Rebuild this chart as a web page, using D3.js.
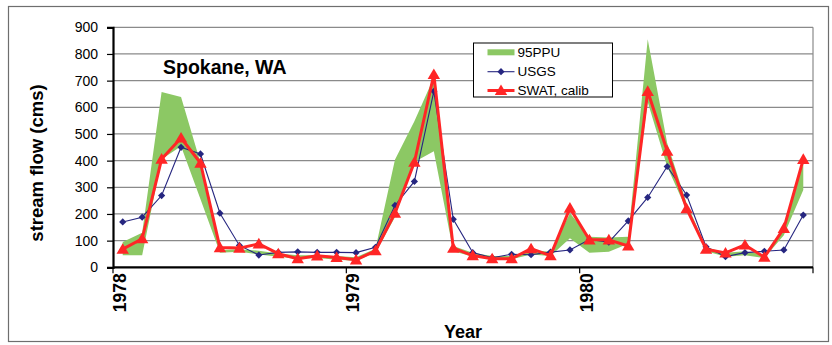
<!DOCTYPE html>
<html>
<head>
<meta charset="utf-8">
<script src="https://cdn.jsdelivr.net/npm/d3@7"></script>
<style>
  html, body { margin: 0; padding: 0; background: #fff; }
  svg { display: block; font-family: "Liberation Sans", Arial, sans-serif; }
</style>
</head>
<body>
<svg id="chart" width="832" height="345"></svg>
<script>
// Monthly categories, Jan 1978 – Dec 1980
const months = [
  "1978-01","1978-02","1978-03","1978-04","1978-05","1978-06","1978-07","1978-08","1978-09","1978-10","1978-11","1978-12",
  "1979-01","1979-02","1979-03","1979-04","1979-05","1979-06","1979-07","1979-08","1979-09","1979-10","1979-11","1979-12",
  "1980-01","1980-02","1980-03","1980-04","1980-05","1980-06","1980-07","1980-08","1980-09","1980-10","1980-11","1980-12"
];
// Year labels shown at the first month of each year
const yearTicks = ["1978-01", "1979-01", "1980-01"];
const yearLabels = ["1978", "1979", "1980"];
const yTicks = [0, 100, 200, 300, 400, 500, 600, 700, 800, 900];

// Observed flow (USGS gauge), cms
const usgs = [170,188,269,450,425,203,82,46,56,58,56,56,
              55,75,232,322,660,180,55,36,49,47,57,65,
              104,94,174,262,378,271,77,40,55,60,65,196];
// Calibrated SWAT simulation, cms
const swat = [68,107,406,485,391,74,72,88,51,32,43,37,
              28,62,203,394,723,72,44,32,32,70,44,222,
              103,103,80,660,436,220,68,54,84,38,146,405];
// 95% prediction uncertainty band
const ppuUpper = [95,130,657,639,392,65,68,62,52,45,45,42,
                  38,70,403,548,712,80,55,42,42,65,58,203,
                  115,112,115,855,466,240,75,55,60,48,150,390];
const ppuLower = [45,45,405,454,255,55,58,48,40,32,35,28,
                  25,55,188,395,435,60,40,30,30,48,42,109,
                  55,58,88,620,378,215,60,40,45,35,120,290];

const svg = d3.select("#chart");
const plot = { left: 113, right: 813, top: 27.3, bottom: 267.3 };

const GREEN = "#8cc864", NAVY = "#262680", RED = "#ff2626";

// Outer frame
svg.append("rect")
  .attr("x", 8.5).attr("y", 6.5).attr("width", 820).attr("height", 335)
  .attr("fill", "#fff").attr("stroke", "#6e6e6e").attr("stroke-width", 1.2);

const x = d3.scaleBand().domain(months).range([plot.left, plot.right]).padding(0);
const cx = m => x(m) + x.bandwidth() / 2;
const y = d3.scaleLinear().domain([0, 900]).range([plot.bottom, plot.top]);

// Horizontal gridlines
svg.append("g").selectAll("line")
  .data(yTicks.filter(d => d > 0))
  .join("line")
  .attr("x1", plot.left).attr("x2", plot.right)
  .attr("y1", d => y(d)).attr("y2", d => y(d))
  .attr("stroke", "#8a8a8a").attr("stroke-width", 1.2);

// Right edge of the plot area
svg.append("line")
  .attr("x1", plot.right).attr("x2", plot.right)
  .attr("y1", plot.top).attr("y2", plot.bottom)
  .attr("stroke", "#8a8a8a").attr("stroke-width", 1.2);

// 95PPU band
const band = months.map((m, i) => ({ m, hi: ppuUpper[i], lo: ppuLower[i] }));
svg.append("path")
  .datum(band)
  .attr("fill", GREEN)
  .attr("d", d3.area().x(d => cx(d.m)).y0(d => y(d.lo)).y1(d => y(d.hi)));

// USGS observed series
const obs = months.map((m, i) => ({ m, v: usgs[i] }));
const line = d3.line().x(d => cx(d.m)).y(d => y(d.v));
svg.append("path").datum(obs)
  .attr("fill", "none").attr("stroke", NAVY).attr("stroke-width", 1.1)
  .attr("d", line);
const diamond = "M0,-3.6L3.6,0L0,3.6L-3.6,0Z";
svg.append("g").selectAll("path")
  .data(obs).join("path")
  .attr("d", diamond)
  .attr("transform", d => `translate(${cx(d.m)},${y(d.v)})`)
  .attr("fill", NAVY);

// SWAT calibrated series
const sim = months.map((m, i) => ({ m, v: swat[i] }));
svg.append("path").datum(sim)
  .attr("fill", "none").attr("stroke", RED).attr("stroke-width", 3)
  .attr("stroke-linejoin", "round")
  .attr("d", line);
const triangle = "M0,-6L6.2,4.6L-6.2,4.6Z";
svg.append("g").selectAll("path")
  .data(sim).join("path")
  .attr("d", triangle)
  .attr("transform", d => `translate(${cx(d.m)},${y(d.v)})`)
  .attr("fill", RED);

// Y axis
const yAxis = svg.append("g")
  .attr("transform", `translate(${plot.left},0)`)
  .call(d3.axisLeft(y).tickValues(yTicks).tickSize(6).tickPadding(9).tickFormat(d3.format("d")));
yAxis.select(".domain").attr("stroke", "#000").attr("stroke-width", 2.2);
yAxis.selectAll(".tick line").attr("stroke", "#000").attr("stroke-width", 1.2);
yAxis.selectAll(".tick text")
  .attr("font-size", 14).attr("fill", "#000")
  .attr("font-family", "Liberation Sans, Arial, sans-serif");

// X axis: ticks at year boundaries
const xAxis = svg.append("g")
  .attr("transform", `translate(0,${plot.bottom})`);
xAxis.append("line")
  .attr("x1", plot.left).attr("x2", plot.right)
  .attr("stroke", "#000").attr("stroke-width", 2.2);
const bounds = [...yearTicks.map(m => x(m)), plot.right];
xAxis.selectAll("line.tk").data(bounds).join("line")
  .attr("class", "tk")
  .attr("x1", d => d).attr("x2", d => d).attr("y1", 0).attr("y2", 6)
  .attr("stroke", "#000").attr("stroke-width", 1.2);
xAxis.selectAll("text.yr").data(yearTicks).join("text")
  .attr("class", "yr")
  .attr("transform", d => `translate(${x(d) + 13},6) rotate(-90)`)
  .attr("text-anchor", "end")
  .attr("font-size", 17.5).attr("font-weight", "bold")
  .text((d, i) => yearLabels[i]);

// Axis titles
svg.append("text")
  .attr("transform", `translate(43,${163}) rotate(-90)`)
  .attr("text-anchor", "middle")
  .attr("font-size", 18.5).attr("font-weight", "bold")
  .text("stream flow (cms)");
svg.append("text")
  .attr("x", (plot.left + plot.right) / 2).attr("y", 338)
  .attr("text-anchor", "middle")
  .attr("font-size", 18).attr("font-weight", "bold")
  .text("Year");

// Station title
svg.append("text")
  .attr("x", 163).attr("y", 73.5)
  .attr("font-size", 19.5).attr("font-weight", "bold")
  .text("Spokane, WA");

// Legend
const lg = svg.append("g").attr("transform", "translate(473.5,43)");
lg.append("rect").attr("width", 139).attr("height", 54)
  .attr("fill", "#fff").attr("stroke", "#000").attr("stroke-width", 1);
lg.append("rect").attr("x", 14).attr("y", 6.3).attr("width", 27).attr("height", 6).attr("fill", GREEN);
lg.append("line").attr("x1", 14).attr("x2", 41).attr("y1", 28.7).attr("y2", 28.7)
  .attr("stroke", NAVY).attr("stroke-width", 1.1);
lg.append("path").attr("d", diamond).attr("transform", "translate(27.5,28.7)").attr("fill", NAVY);
lg.append("line").attr("x1", 14).attr("x2", 41).attr("y1", 47.5).attr("y2", 47.5)
  .attr("stroke", RED).attr("stroke-width", 3);
lg.append("path").attr("d", triangle).attr("transform", "translate(27.5,47.5)").attr("fill", RED);
lg.selectAll("text.lab").data(["95PPU", "USGS", "SWAT, calib"]).join("text")
  .attr("class", "lab")
  .attr("x", 44).attr("y", (d, i) => 14 + i * 19)
  .attr("font-size", 13.5).attr("fill", "#000")
  .text(d => d);
</script>
</body>
</html>
